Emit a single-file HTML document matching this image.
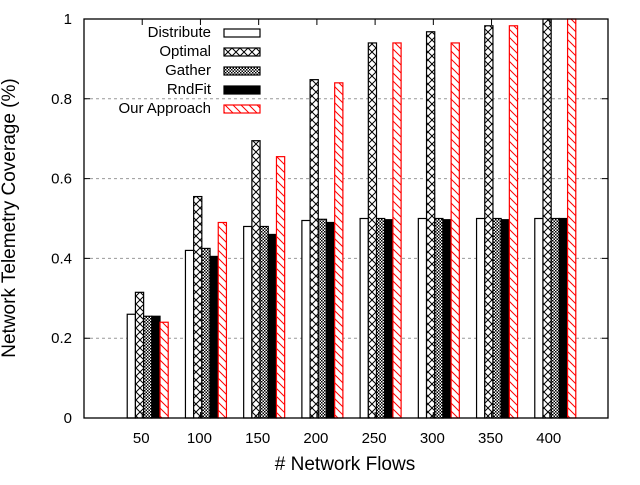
<!DOCTYPE html>
<html><head><meta charset="utf-8"><style>
body{margin:0;background:#fff}
svg text{font-family:"Liberation Sans",sans-serif;fill:#000}
</style></head><body>
<svg width="640" height="480" xmlns="http://www.w3.org/2000/svg">
<defs>
<pattern id="pCross" width="8" height="8" patternUnits="userSpaceOnUse"><rect width="8" height="8" fill="#fff"/><path d="M0,0L8,8M8,0L0,8" stroke="#000" stroke-width="1"/></pattern>
<pattern id="pDots" width="3" height="3" patternUnits="userSpaceOnUse"><rect width="3" height="3" fill="#fff"/><rect width="1.5" height="1.5" fill="#000"/><rect x="1.5" y="1.5" width="1.5" height="1.5" fill="#000"/></pattern>
<pattern id="pHatch" width="8" height="8" patternUnits="userSpaceOnUse"><rect width="8" height="8" fill="#fff"/><path d="M0,0L8,8M-4,4L4,12M4,-4L12,4" stroke="#f00" stroke-width="1"/></pattern>
</defs>
<g id="grid"></g>
<g id="bars"></g>
<g id="axes"></g>
<g id="legend"></g>
<text x="345" y="470" font-size="19" text-anchor="middle"># Network Flows</text>
<text transform="translate(15,218) rotate(-90)" font-size="19" text-anchor="middle">Network Telemetry Coverage (%)</text>
</svg>
<script>
const categories=[50,100,150,200,250,300,350,400];
const seriesNames=["Distribute","Optimal","Gather","RndFit","Our Approach"];
const distribute=[0.26,0.42,0.48,0.495,0.50,0.50,0.50,0.50];
const optimal=[0.315,0.555,0.695,0.848,0.94,0.968,0.983,1.0];
const gather=[0.255,0.425,0.48,0.498,0.5,0.5,0.5,0.5];
const rndfit=[0.255,0.405,0.46,0.49,0.497,0.497,0.497,0.5];
const ourApproach=[0.24,0.49,0.655,0.84,0.94,0.94,0.983,1.0];
const yTicks=[0,0.2,0.4,0.6,0.8,1];
const yTickLabels=["0","0.2","0.4","0.6","0.8","1"];

const NS="http://www.w3.org/2000/svg";
const L=84,R=608,T=19,B=418;
const x=v=>L+(v/450)*(R-L);
const y=v=>B-v*(B-T);
function mk(tag,attrs,parent){const e=document.createElementNS(NS,tag);for(const k in attrs)e.setAttribute(k,attrs[k]);parent.appendChild(e);return e;}
const grid=document.getElementById('grid'),bars=document.getElementById('bars'),axes=document.getElementById('axes'),leg=document.getElementById('legend');
const fills=["#fff","url(#pCross)","url(#pDots)","#000","url(#pHatch)"];
const strokes=["#000","#000","#000","#000","#f00"];
const series=[distribute,optimal,gather,rndfit,ourApproach];
yTicks.forEach((t,i)=>{
  if(t>0&&t<1){const g=mk('line',{x1:L,x2:R,y1:y(t),y2:y(t),stroke:'#999','stroke-dasharray':'3,3'},grid);
  
  }
  const tk=mk('path',{d:`M${L},${y(t)}h6M${R},${y(t)}h-6`,stroke:'#000'},axes);
  
  
  const tl=mk('text',{x:L-12,y:y(t)+5,'font-size':15,'text-anchor':'end'},axes);tl.textContent=yTickLabels[i];
  
  
});
const bw=8.2;
const barShift=5.5;
categories.forEach((c,ci)=>{
  const cx=x(c);
  series.forEach((s,si)=>{
    const bx=cx+barShift-2.5*bw+si*bw;
    const r=mk('rect',{x:bx,y:y(s[ci]),width:bw,height:B-y(s[ci]),fill:fills[si],stroke:strokes[si],'stroke-width':1.2},bars);
    
    
  });
  const tk=mk('path',{d:`M${cx},${B}v-6M${cx},${T}v6`,stroke:'#000'},axes);
  
  
  const tl=mk('text',{x:cx-1,y:B+25,'font-size':15,'text-anchor':'middle'},axes);tl.textContent=c;
  
  
});
const fr=mk('rect',{x:L,y:T,width:R-L,height:B-T,fill:'none',stroke:'#000','stroke-width':1.3},axes);


seriesNames.forEach((n,i)=>{
  const ly=32+i*19;
  const t=mk('text',{x:211,y:ly+5,'font-size':15,'text-anchor':'end'},leg);t.textContent=n;
  
  
  const r=mk('rect',{x:224,y:ly-3,width:36,height:8,fill:fills[i],stroke:strokes[i],'stroke-width':1.2},leg);
  
  
});
</script>
</body></html>
